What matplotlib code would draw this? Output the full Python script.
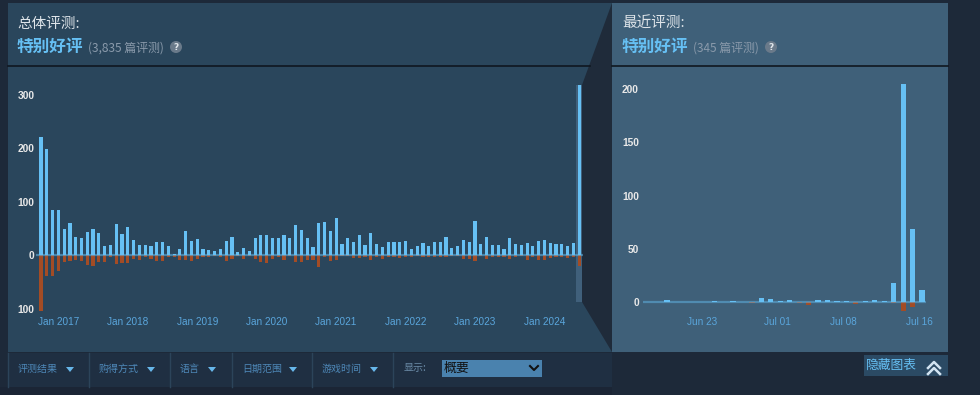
import matplotlib
matplotlib.use('Agg')
import matplotlib.pyplot as plt
import pandas as pd
from matplotlib.patches import Rectangle, Polygon, Ellipse
from matplotlib.lines import Line2D

plt.rcParams['font.family'] = ['Noto Sans CJK SC', 'DejaVu Sans']

# ---------------------------------------------------------------
# data
# ---------------------------------------------------------------
months = pd.date_range('2016-10-01', '2024-07-01', freq='MS')
overall_pos = [221, 198, 84, 84, 50, 60, 34, 32, 43, 49, 42, 17, 20, 58, 40, 53,
               29, 19, 19, 17, 24, 24, 17, 3, 12, 45, 27, 30, 12, 10, 8, 12,
               27, 34, 6, 14, 8, 32, 38, 38, 32, 32, 38, 32, 56, 47, 32, 16,
               60, 63, 45, 69, 22, 32, 25, 38, 20, 42, 21, 16, 25, 25, 25, 27,
               11, 17, 23, 17, 25, 25, 34, 14, 17, 28, 25, 64, 21, 34, 19, 19,
               12, 32, 22, 20, 23, 17, 27, 28, 23, 21, 21, 17, 23, 318]
overall_neg = [104, 38, 38, 29, 12, 11, 9, 10, 18, 19, 12, 13, 4, 16, 14, 15,
               7, 8, 4, 6, 11, 10, 4, 4, 8, 8, 11, 7, 4, 4, 2, 3,
               11, 7, 2, 6, 2, 6, 12, 15, 6, 4, 8, 2, 13, 13, 9, 9,
               22, 4, 10, 9, 2, 2, 5, 5, 4, 9, 4, 6, 4, 4, 5, 4,
               4, 2, 4, 4, 4, 4, 4, 2, 2, 6, 7, 10, 2, 6, 4, 4,
               4, 6, 4, 2, 9, 4, 9, 9, 5, 4, 4, 5, 4, 20]

days = pd.date_range('2024-06-17', '2024-07-16', freq='D')
recent_pos = [0, 0, 2, 0, 0, 0, 0, 1, 0, 1, 0, 0, 4, 3, 1,
              2, 0, 0, 2, 2, 1, 1, 0, 1, 2, 1, 18, 205, 69, 11]
recent_neg = [0, 0, 0, 0, 0, 0, 0, 0, 0, 0, 0, 1, 0, 0, 0,
              0, 1, 3, 0, 0, 0, 0, 2, 0, 0, 0, 1, 9, 5, 0]

recent_ticks = ['Jun 23', 'Jul 01', 'Jul 08', 'Jul 16']
overall_yticks = [-100, 0, 100, 200, 300]
recent_yticks = [0, 50, 100, 150, 200]
filters = ['评测结果', '购得方式', '语言', '日期范围', '游戏时间']

# colours
POS = '#66c0f4'
NEG = '#a34c25'
PAGE = '#1d2939'
LEFT_BG = '#2a465c'
RIGHT_BG = '#3f6079'
TICK_BLUE = '#5aa6dc'

W, H = 980, 395
fig = plt.figure(figsize=(W / 100, H / 100), dpi=100, facecolor=PAGE)


def box(x0, y0, x1, y1):
    return [x0 / W, 1 - y1 / H, (x1 - x0) / W, (y1 - y0) / H]


def rect(x0, y0, x1, y1, color, z=-10):
    fig.add_artist(Rectangle((x0 / W, 1 - y1 / H), (x1 - x0) / W, (y1 - y0) / H,
                             transform=fig.transFigure, facecolor=color,
                             edgecolor='none', zorder=z))


def poly(pts, color, z=-5):
    fig.add_artist(Polygon([(x / W, 1 - y / H) for x, y in pts], closed=True,
                           transform=fig.transFigure, facecolor=color,
                           edgecolor='none', zorder=z))


def line(xs, ys, color, lw=1, z=-4):
    fig.add_artist(Line2D([x / W for x in xs], [1 - y / H for y in ys],
                          transform=fig.transFigure, color=color, lw=lw, zorder=z))


def txt(x, y, s, **kw):
    fig.text(x / W, 1 - y / H, s, va='center', zorder=8, **kw)


# background panels
rect(0, 0, W, H, PAGE, z=-20)
rect(8, 3, 612, 352, LEFT_BG)
rect(612, 3, 948, 352, RIGHT_BG)
rect(8, 353, 612, 387, '#1f2f42')
rect(0, 387, 612, H, '#1b2535')
# header separators
line([8, 590], [66, 66], '#0f1720', lw=1.2)
line([612, 948], [66, 66], '#0f1720', lw=1.2)
# connector between the two panels
poly([(582, 85), (612, 3), (612, 352), (582, 302)], '#1f2b3a')

# ---------------------------------------------------------------
# headers
# ---------------------------------------------------------------
for x0, title, count, qx in [(17, '总体评测:', '(3,835 篇评测)', 176),
                             (622, '最近评测:', '(345 篇评测)', 771)]:
    txt(x0, 24, title, color='#dfe5ea', fontsize=10.5)
    txt(x0, 47, '特别好评', color=POS, fontsize=12, fontweight='bold')
    txt(x0 + 71, 48, count, color='#8a9aab', fontsize=8.6)
    fig.add_artist(Ellipse((qx / W, 1 - 47 / H), 12 / W, 12 / H,
                           transform=fig.transFigure, facecolor='#6a7a8a',
                           edgecolor='none', zorder=5))
    txt(qx, 47.5, '?', color='#dfe5ea', fontsize=6.5, fontweight='bold',
        ha='center', family='DejaVu Sans')

# ---------------------------------------------------------------
# overall chart (monthly)
# ---------------------------------------------------------------
ax1 = fig.add_axes(box(36, 80, 583, 312))
ax1.set_facecolor('none')
xi = list(range(len(months)))
ax1.bar(xi, overall_pos, width=0.55, color=POS, zorder=2)
ax1.bar(xi, [-v for v in overall_neg], width=0.55, color=NEG, zorder=2)
ax1.axhline(0, color=POS, alpha=0.5, lw=1.6, zorder=3)
# highlighted "recent" period behind the last bar
ax1.axvspan(xi[-1] - 0.5, xi[-1] + 0.5, ymin=0.043, ymax=0.978,
            color='#40607b', zorder=1, lw=0)
ax1.set_xlim(-0.864, 93.66)
ax1.set_ylim(-105.8, 327.4)
jan = [i for i, m in enumerate(months) if m.month == 1]
ax1.set_xticks(jan)
ax1.set_xticklabels([months[i].strftime('%b %Y') for i in jan])
ax1.set_yticks(overall_yticks)
ax1.set_yticklabels([str(abs(v)) for v in overall_yticks])

# ---------------------------------------------------------------
# recent chart (daily)
# ---------------------------------------------------------------
ax2 = fig.add_axes(box(643, 80, 926, 312))
ax2.set_facecolor('none')
di = list(range(len(days)))
ax2.bar(di, recent_pos, width=0.55, color=POS, zorder=2)
ax2.bar(di, [-v for v in recent_neg], width=0.55, color=NEG, zorder=2)
ax2.axhline(0, color=POS, alpha=0.45, lw=1.6, zorder=3)
ax2.set_xlim(-0.53, 29.42)
ax2.set_ylim(-9.6, 208.8)
pos = [i - 0.32 for i, d in enumerate(days) if d.strftime('%b %d') in recent_ticks]
ax2.set_xticks(pos)
ax2.set_xticklabels(recent_ticks)
ax2.set_yticks(recent_yticks)
ax2.set_yticklabels([str(v) for v in recent_yticks])

for ax, ypad in [(ax1, 1.2), (ax2, 3.0)]:
    for s in ax.spines.values():
        s.set_visible(False)
    ax.tick_params(axis='x', length=0, pad=3.6, colors=TICK_BLUE, labelsize=7.2)
    ax.tick_params(axis='y', length=0, pad=ypad, colors='#e8e8e8', labelsize=7.4)
    for lab in ax.get_xticklabels() + ax.get_yticklabels():
        lab.set_family(['Liberation Sans', 'DejaVu Sans'])
    for lab in ax.get_yticklabels():
        lab.set_fontweight('bold')

# ---------------------------------------------------------------
# filter bar
# ---------------------------------------------------------------
fx = [18, 99, 180, 242, 322]
ax_arrow = [70, 151, 212, 293, 374]
for x0, name, xa in zip(fx, filters, ax_arrow):
    txt(x0, 369, name, color='#4e88b8', fontsize=7.2)
    poly([(xa - 4, 367), (xa + 4, 367), (xa, 372)], '#67b7ea', z=5)
for xs in [8, 89, 170, 232, 312, 393]:
    line([xs, xs], [353, 387], '#2c445a', lw=1)
txt(404, 368, '显示:', color='#6a8aa6', fontsize=7.2)
rect(442, 360, 542, 377, '#4a82ae', z=4)
txt(444, 368, '概要', color='#111111', fontsize=9.3)
line([530, 534, 538], [366, 370, 366], '#111111', lw=1.5, z=6)

# hide-chart button
rect(864, 355, 948, 376, '#2b4a64', z=4)
txt(866, 365, '隐藏图表', color=POS, fontsize=9.2)
for dy in (0, 6):
    line([928, 934, 940], [368 + dy, 362 + dy, 368 + dy], '#d2e4f2', lw=1.8, z=6)

fig.savefig('out.png', dpi=100, facecolor=fig.get_facecolor())
